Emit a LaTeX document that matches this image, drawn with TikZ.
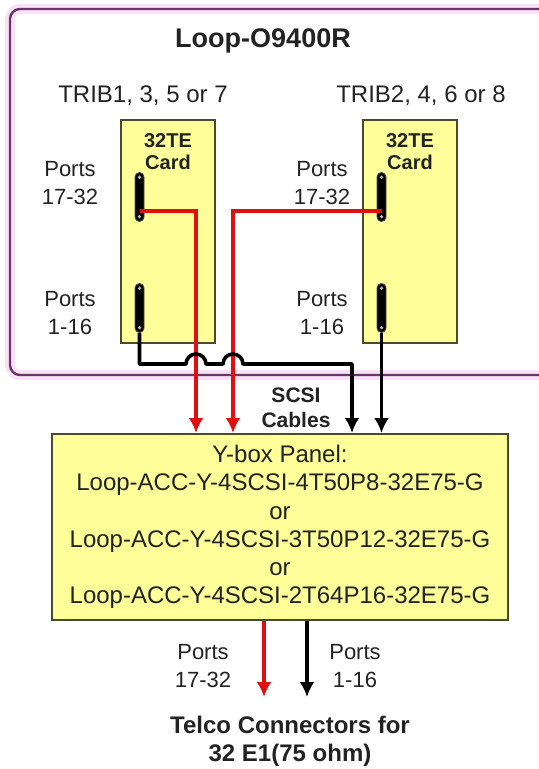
\documentclass[tikz,border=0pt]{standalone}
\usepackage{fontspec}
\setmainfont{Liberation Sans}
\usepackage{tikz}
\usetikzlibrary{arrows.meta,positioning,calc}
\definecolor{panelyellow}{HTML}{FFFF99}
\definecolor{framepurple}{HTML}{6E3470}
\definecolor{halopink}{HTML}{F8E2F6}
\definecolor{wirered}{HTML}{E01010}
\definecolor{edgeolive}{HTML}{4A4A30}
\definecolor{textgray}{HTML}{222222}

\begin{document}
\begin{tikzpicture}[
        x=0.5pt,
        y=-0.5pt,
        every node/.style={text=textgray},
        card/.style={draw=edgeolive, line width=0.8pt, fill=panelyellow,
            minimum width=47pt, minimum height=111.5pt, inner sep=0pt},
        cardtxt/.style={align=center, font=\fontsize{10}{11}\selectfont\bfseries},
        port/.style={draw=gray!60!black, line width=0.4pt, fill=black,
            rounded corners=2.2pt, minimum width=4.5pt, minimum height=24.5pt, inner sep=0pt,
            path picture={
                \fill[gray!55] ([yshift=-2.4pt]path picture bounding box.north) circle (0.9pt);
                \fill[gray!55] ([yshift=2.4pt]path picture bounding box.south) circle (0.9pt);
            }},
        portlbl/.style={align=center, font=\fontsize{11}{13.8}\selectfont},
        ybox/.style={draw=edgeolive, line width=1pt, fill=panelyellow, align=center,
            minimum width=228pt, minimum height=93pt, inner sep=0pt,
            font=\fontsize{12}{14.1}\selectfont},
        redwire/.style={-{Latex[length=7.5pt,width=7.5pt]}, line width=1.8pt, wirered},
        blackwire/.style={-{Latex[length=7.5pt,width=7.5pt]}, line width=1.8pt, black, line join=round}
    ]
        \useasboundingbox (0,0) rectangle (539,769);

        \draw[halopink, line width=5pt, rounded corners=5pt] (10,9) rectangle (570,375);
        \draw[framepurple, line width=1.2pt, rounded corners=5pt] (10,9) rectangle (570,375);

        \node[font=\fontsize{13.5}{16}\selectfont\bfseries] (title) at (263,41) {Loop-O9400R};
        \node[font=\fontsize{12}{14}\selectfont] (tribodd) at (143,96) {TRIB1, 3, 5 or 7};
        \node[font=\fontsize{12}{14}\selectfont] (tribeven) at (421,96) {TRIB2, 4, 6 or 8};

        \node[card] (cardone) at (168,231.5) {};
        \node[card] (cardtwo) at (410,231.5) {};
        \node[cardtxt, below=3.5pt of cardone.north] (cardonetxt) {32TE\\Card};
        \node[cardtxt, below=3.5pt of cardtwo.north] (cardtwotxt) {32TE\\Card};

        \node[port] (oneupper) at (139.5,197) {};
        \node[port] (onelower) at (139.5,308) {};
        \node[port] (twoupper) at (381.5,197) {};
        \node[port] (twolower) at (381.5,308) {};

        \node[portlbl] (lblonehi) at (70,183) {Ports\\17-32};
        \node[portlbl] (lblonelo) at (70,313) {Ports\\1-16};
        \node[portlbl] (lbltwohi) at (322,183) {Ports\\17-32};
        \node[portlbl] (lbltwolo) at (322,313) {Ports\\1-16};

        \node[ybox] (ybox) at (280,527)
            {Y-box Panel:\\Loop-ACC-Y-4SCSI-4T50P8-32E75-G\\or\\Loop-ACC-Y-4SCSI-3T50P12-32E75-G\\or\\Loop-ACC-Y-4SCSI-2T64P16-32E75-G};

        \coordinate (xredone) at (196,0);
        \coordinate (xredtwo) at (233,0);
        \coordinate (xblkone) at (352,0);
        \coordinate (jog) at (139.5,364);

        \draw[redwire] ([yshift=5.5pt]oneupper.south) -| (xredone |- ybox.north);
        \draw[redwire] ([yshift=5.5pt]twoupper.south) -| (xredtwo |- ybox.north);

        \draw[blackwire] (onelower.south) -- (jog)
            -- ($(xredone |- jog)+(-10,0)$) arc[start angle=180, end angle=0, radius=5pt]
            -- ($(xredtwo |- jog)+(-10,0)$) arc[start angle=180, end angle=0, radius=5pt]
            -| (xblkone |- ybox.north);
        \draw[blackwire] (twolower.south) -- (twolower.south |- ybox.north);

        \node[align=center, font=\fontsize{10.5}{12.5}\selectfont\bfseries] (scsi) at (296,408) {SCSI\\Cables};

        \coordinate (telred) at (264,697);
        \coordinate (telblk) at (307,697);
        \draw[redwire] (telred |- ybox.south) -- (telred);
        \draw[blackwire] (telblk |- ybox.south) -- (telblk);

        \node[portlbl] (lblouthi) at (203,666) {Ports\\17-32};
        \node[portlbl] (lbloutlo) at (355,666) {Ports\\1-16};
        \node[align=center, font=\fontsize{12}{14}\selectfont\bfseries] (telco) at (290,741)
            {Telco Connectors for\\32 E1(75 ohm)};
    \end{tikzpicture}
\end{document}
